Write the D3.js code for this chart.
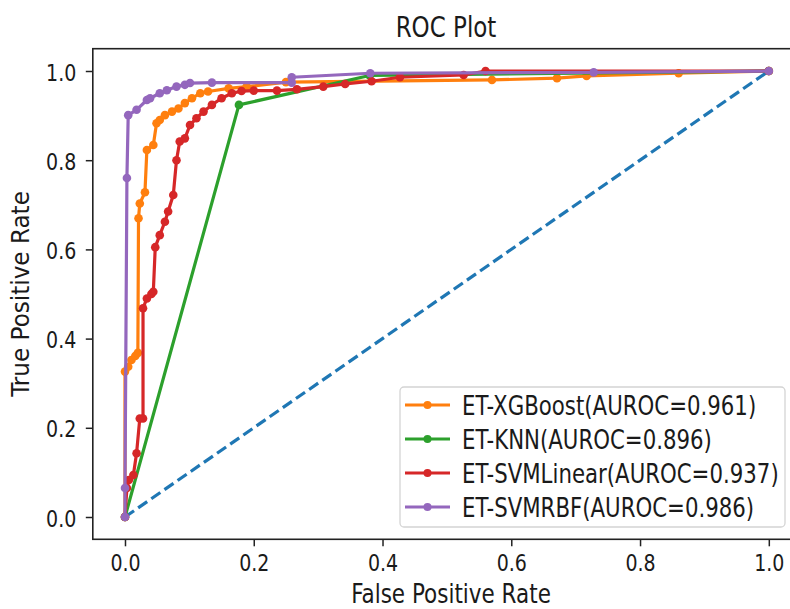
<!DOCTYPE html>
<html lang="en">
<head>
<meta charset="utf-8">
<title>ROC Plot</title>
<script src="https://cdn.jsdelivr.net/npm/d3@7"></script>
<style>
    body { margin: 0; background: #fff; }
    text { font-family: "DejaVu Sans", sans-serif; fill: #1a1a1a; }
</style>
</head>
<body>
<svg id="roc" width="790" height="609"></svg>
<script>
// values
var xgbFpr = [0, 0, 0.005, 0.01, 0.016, 0.02, 0.021, 0.023, 0.031, 0.034, 0.044, 0.049, 0.054, 0.062, 0.073, 0.083, 0.093, 0.104, 0.117, 0.129, 0.161, 0.189, 0.25, 0.57, 0.671, 0.717, 0.86, 1];
var xgbTpr = [0, 0.326, 0.337, 0.352, 0.361, 0.368, 0.67, 0.703, 0.728, 0.823, 0.834, 0.883, 0.89, 0.901, 0.909, 0.916, 0.928, 0.939, 0.95, 0.954, 0.961, 0.965, 0.975, 0.98, 0.984, 0.989, 0.995, 1];

var knnFpr = [0, 0.177, 0.38, 1];
var knnTpr = [0, 0.924, 0.99, 1];

var linFpr = [0, 0.003, 0.006, 0.013, 0.018, 0.023, 0.028, 0.028, 0.034, 0.041, 0.044, 0.047, 0.054, 0.062, 0.067, 0.075, 0.08, 0.085, 0.093, 0.101, 0.111, 0.122, 0.135, 0.15, 0.166, 0.181, 0.2, 0.236, 0.267, 0.308, 0.342, 0.383, 0.427, 0.526, 0.56, 1];
var linTpr = [0, 0.065, 0.083, 0.094, 0.143, 0.221, 0.221, 0.468, 0.49, 0.5, 0.505, 0.605, 0.632, 0.662, 0.685, 0.722, 0.8, 0.842, 0.849, 0.879, 0.894, 0.909, 0.924, 0.939, 0.95, 0.955, 0.956, 0.956, 0.959, 0.965, 0.971, 0.977, 0.986, 0.991, 1, 1];

var rbfFpr = [0, 0, 0.003, 0.005, 0.018, 0.034, 0.039, 0.054, 0.065, 0.08, 0.093, 0.101, 0.135, 0.259, 0.259, 0.381, 0.728, 1];
var rbfTpr = [0, 0.065, 0.76, 0.901, 0.913, 0.935, 0.939, 0.95, 0.957, 0.965, 0.969, 0.973, 0.974, 0.974, 0.986, 0.995, 0.997, 1];

var chanceFpr = [0, 1];
var chanceTpr = [0, 1];

var seriesNames = ["ET-XGBoost(AUROC=0.961)", "ET-KNN(AUROC=0.896)", "ET-SVMLinear(AUROC=0.937)", "ET-SVMRBF(AUROC=0.986)"];
var seriesColors = ["#ff7f0e", "#2ca02c", "#d62728", "#9467bd"];
var chanceColor = "#1f77b4";

var tickValues = [0, 0.2, 0.4, 0.6, 0.8, 1.0];
var tickLabels = ["0.0", "0.2", "0.4", "0.6", "0.8", "1.0"];

// glyphs in the reference are stretched vertically a bit
var stretch = "scale(1,1.25)";

var svg = d3.select("#roc");
// note: "top" is taken by window.top, so prefix everything
var axLeft = 92.8, axRight = 801, axTop = 48.7, axBottom = 539.3;

var x = d3.scaleLinear().domain([-0.05, 1.05]).range([axLeft, axRight]);
var y = d3.scaleLinear().domain([-0.05, 1.05]).range([axBottom, axTop]);

var plot = svg.append("g");

function toPoints(fpr, tpr) {
    return fpr.map(function(f, i) { return [f, tpr[i]]; });
}

var line = d3.line()
    .x(function(d) { return x(d[0]); })
    .y(function(d) { return y(d[1]); });

// chance diagonal under everything
plot.append("path")
    .datum(toPoints(chanceFpr, chanceTpr))
    .attr("d", line)
    .attr("fill", "none")
    .attr("stroke", chanceColor)
    .attr("stroke-width", 3.2)
    .attr("stroke-dasharray", "11,5");

var curves = [
    toPoints(xgbFpr, xgbTpr),
    toPoints(knnFpr, knnTpr),
    toPoints(linFpr, linTpr),
    toPoints(rbfFpr, rbfTpr)
];

curves.forEach(function(pts, i) {
    var g = plot.append("g");
    g.append("path")
        .datum(pts)
        .attr("d", line)
        .attr("fill", "none")
        .attr("stroke", seriesColors[i])
        .attr("stroke-width", 3.2)
        .attr("stroke-linejoin", "round");
    g.selectAll("circle")
        .data(pts)
        .enter()
        .append("circle")
        .attr("cx", function(d) { return x(d[0]); })
        .attr("cy", function(d) { return y(d[1]); })
        .attr("r", 4.3)
        .attr("fill", seriesColors[i]);
});

// axes
var xAxis = svg.append("g")
    .attr("transform", "translate(0," + axBottom + ")")
    .call(d3.axisBottom(x).tickValues(tickValues).tickSize(7).tickSizeOuter(0)
        .tickFormat(function(d, i) { return tickLabels[i]; }));
var yAxis = svg.append("g")
    .attr("transform", "translate(" + axLeft + ",0)")
    .call(d3.axisLeft(y).tickValues(tickValues).tickSize(7).tickSizeOuter(0)
        .tickFormat(function(d, i) { return tickLabels[i]; }));

[xAxis, yAxis].forEach(function(a) {
    a.select(".domain").remove();
    a.selectAll(".tick line").attr("stroke", "#222").attr("stroke-width", 1.5);
    a.selectAll(".tick text")
        .attr("font-family", "DejaVu Sans")
        .attr("font-size", 19)
        .attr("fill", "#1a1a1a")
        .attr("x", null).attr("y", null).attr("dy", null);
});
xAxis.selectAll(".tick text").attr("transform", "translate(0,31.5) " + stretch);
yAxis.selectAll(".tick text").attr("transform", "translate(-16.5,9) " + stretch);

// frame
svg.append("rect")
    .attr("x", axLeft).attr("y", axTop)
    .attr("width", axRight - axLeft).attr("height", axBottom - axTop)
    .attr("fill", "none")
    .attr("stroke", "#222")
    .attr("stroke-width", 1.6);

// title and axis labels
svg.append("text")
    .attr("text-anchor", "middle")
    .attr("font-size", 23)
    .attr("transform", "translate(446,37) " + stretch)
    .text("ROC Plot");

svg.append("text")
    .attr("text-anchor", "middle")
    .attr("font-size", 21.5)
    .attr("transform", "translate(451,603) " + stretch)
    .text("False Positive Rate");

svg.append("text")
    .attr("text-anchor", "middle")
    .attr("font-size", 21)
    .attr("transform", "translate(29,294) rotate(-90) scale(1.1,1.15)")
    .text("True Positive Rate");

// legend
var legend = svg.append("g");
legend.append("rect")
    .attr("x", 400).attr("y", 387)
    .attr("width", 385).attr("height", 140)
    .attr("rx", 4)
    .attr("fill", "#fff")
    .attr("fill-opacity", 0.85)
    .attr("stroke", "#d4d4d4")
    .attr("stroke-width", 1.3);

var rowY = d3.scalePoint().domain(seriesNames).range([405, 507]);

var rows = legend.selectAll("g.row")
    .data(seriesNames)
    .enter()
    .append("g")
    .attr("class", "row")
    .attr("transform", function(d) { return "translate(0," + rowY(d) + ")"; });

rows.append("line")
    .attr("x1", 405).attr("x2", 450)
    .attr("stroke", function(d, i) { return seriesColors[i]; })
    .attr("stroke-width", 3.2);
rows.append("circle")
    .attr("cx", 427.5)
    .attr("r", 4)
    .attr("fill", function(d, i) { return seriesColors[i]; });
rows.append("text")
    .attr("font-size", 21.3)
    .attr("transform", "translate(462,9.5) " + stretch)
    .text(function(d) { return d; });
</script>
</body>
</html>
